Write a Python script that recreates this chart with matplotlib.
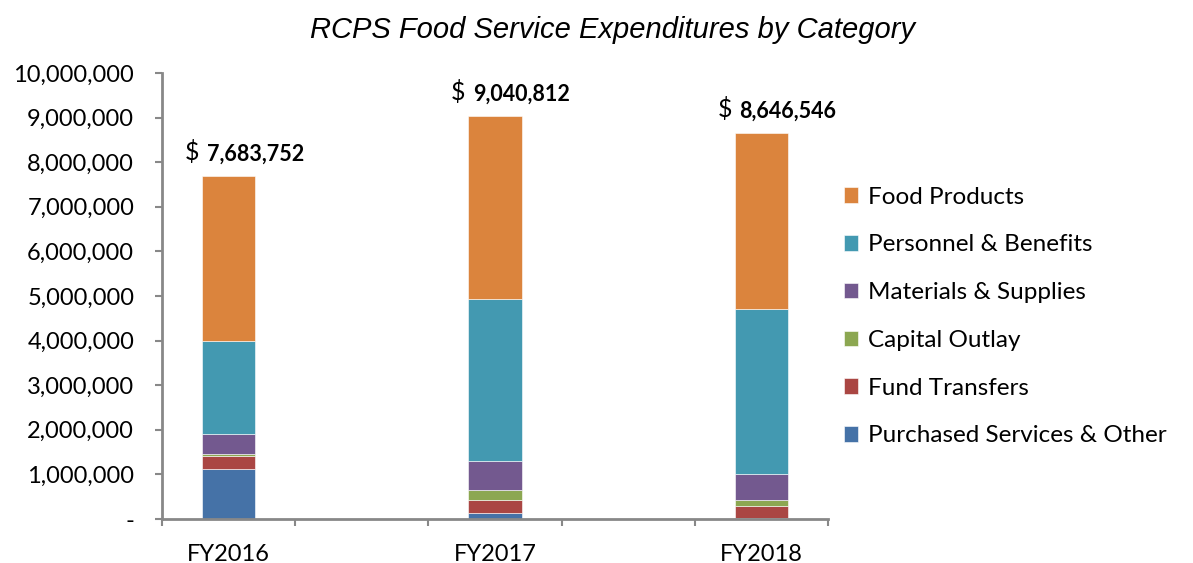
import numpy as np
import matplotlib.pyplot as plt

# dados
years = ["FY2016", "FY2017", "FY2018"]
purchased = [1120000, 130000, 20000]
transfers = [300000, 300000, 270000]
capital = [40000, 210000, 140000]
materials = [440000, 650000, 590000]
personnel = [2080000, 3650000, 3680000]
food = [3703752, 4100812, 3946546]

series = [
    ("Purchased Services & Other", purchased, "#4572A7"),
    ("Fund Transfers", transfers, "#AA4643"),
    ("Capital Outlay", capital, "#8CA751"),
    ("Materials & Supplies", materials, "#73598F"),
    ("Personnel & Benefits", personnel, "#4399B1"),
    ("Food Products", food, "#DB843D"),
]

fig = plt.figure(figsize=(11.93, 5.63), dpi=100)
ax = fig.add_axes([162 / 1193, 44 / 563, 666 / 1193, 446 / 563])

x = np.arange(len(years)) * 2
bottom = np.zeros(len(years))
handles = []
for name, vals, col in series:
    h = ax.bar(x, vals, 0.4, bottom=bottom, color=col, edgecolor="white",
               linewidth=0.4, label=name)
    handles.append(h)
    bottom += np.array(vals)

totals = bottom
for xi, t in zip(x, totals):
    ax.annotate("$", (xi, t), xytext=(-44, 24), textcoords="offset pixels",
                ha="left", va="center", fontsize=18, family="Lato")
    ax.annotate(f"{t:,.0f}", (xi, t), xytext=(-22, 22), textcoords="offset pixels",
                ha="left", va="center", fontsize=15.5, fontweight="bold", family="Lato")

ax.set_xlim(-0.5, 4.5)
ax.set_ylim(0, 10000000)
ax.set_yticks(np.arange(0, 10000001, 1000000))
ax.set_yticklabels(["-"] + [f"{v:,}" for v in range(1000000, 10000001, 1000000)])
ax.set_xticks(x)
ax.set_xticklabels(years)
ax.set_xticks(np.arange(-0.5, 5, 1), minor=True)
ax.tick_params(axis="x", which="major", length=0, pad=18)
ax.tick_params(axis="x", which="minor", length=5, color="#888888", width=1.5)
ax.tick_params(axis="y", length=5, color="#888888", width=1.5, pad=15)
for lab in ax.get_xticklabels() + ax.get_yticklabels():
    lab.set_family("Lato")
    lab.set_fontsize(17)

for s in ["top", "right"]:
    ax.spines[s].set_visible(False)
for s in ["left", "bottom"]:
    ax.spines[s].set_color("#888888")
    ax.spines[s].set_linewidth(2)

fig.text(613 / 1193, 1 - 30 / 563, "RCPS Food Service Expenditures by Category",
         ha="center", va="center", fontsize=21, style="italic", family="Liberation Sans")

leg = fig.legend(handles[::-1], [s[0] for s in series][::-1], loc="upper left",
                 bbox_to_anchor=(834 / 1193, 1 - 177 / 563), frameon=False,
                 prop={"family": "Lato", "size": 17.5}, handlelength=0.6,
                 handleheight=0.6, handletextpad=0.4, labelspacing=1.1,
                 borderaxespad=0)

fig.savefig("out.png", dpi=100)
